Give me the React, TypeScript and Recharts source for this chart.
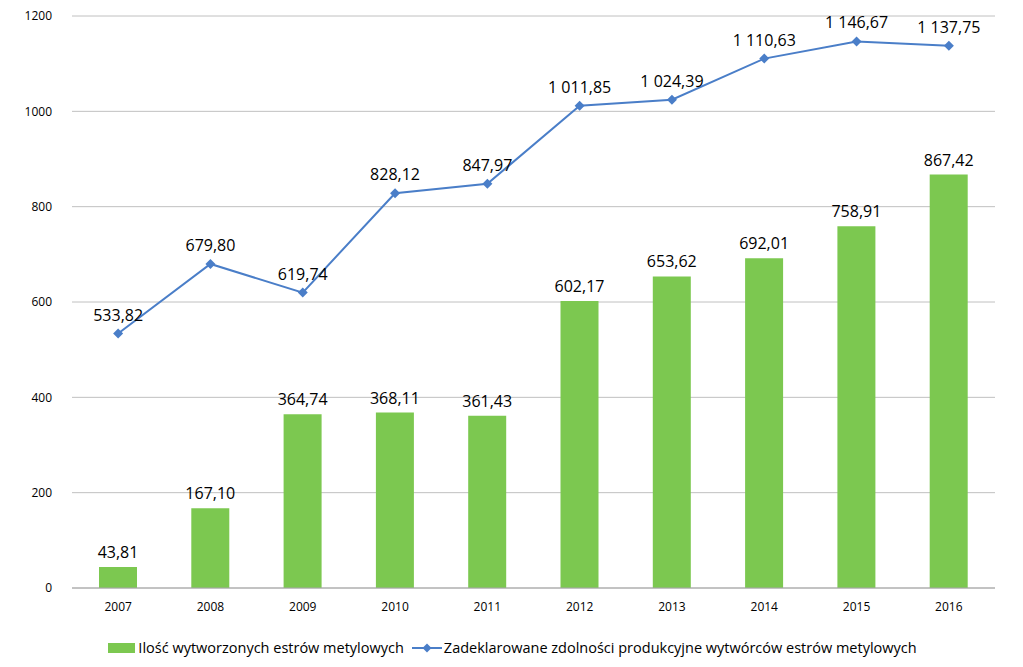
import {
  ComposedChart,
  Bar,
  Line,
  XAxis,
  YAxis,
  CartesianGrid,
  LabelList,
  Legend,
} from "recharts"

const years = ["2007", "2008", "2009", "2010", "2011", "2012", "2013", "2014", "2015", "2016"]
const produced = [43.81, 167.1, 364.74, 368.11, 361.43, 602.17, 653.62, 692.01, 758.91, 867.42]
const capacity = [533.82, 679.8, 619.74, 828.12, 847.97, 1011.85, 1024.39, 1110.63, 1146.67, 1137.75]
const yTicks = [0, 200, 400, 600, 800, 1000, 1200]

const barName = "Ilość wytworzonych estrów metylowych"
const lineName = "Zadeklarowane zdolności produkcyjne wytwórców estrów metylowych"

const data = years.map((y, i) => ({ year: y, produced: produced[i], capacity: capacity[i] }))

const GREEN = "#7CC850"
const BLUE = "#4A7EC8"
const FONT = "'Open Sans', sans-serif"

function fmt(v: number) {
  const [int, dec] = v.toFixed(2).split(".")
  return int.replace(/\B(?=(\d{3})+(?!\d))/g, " ") + "," + dec
}

function Diamond(props: any) {
  const { cx, cy } = props
  if (cx == null || cy == null) return null
  const s = 5
  return (
    <path
      d={`M${cx},${cy - s} L${cx + s},${cy} L${cx},${cy + s} L${cx - s},${cy} Z`}
      fill={BLUE}
    />
  )
}

function LegendBox() {
  return (
    <div
      style={{
        display: "flex",
        justifyContent: "center",
        alignItems: "center",
        fontFamily: FONT,
        fontSize: 14.5,
        color: "#000",
        paddingTop: 18,
        paddingLeft: 30,
      }}
    >
      <span style={{ display: "inline-block", width: 27, height: 10, background: GREEN, marginRight: 3 }} />
      <span style={{ marginRight: 8 }}>{barName}</span>
      <svg width={30} height={12} style={{ marginRight: 2 }}>
        <line x1={0} y1={6} x2={30} y2={6} stroke={BLUE} strokeWidth={2} />
        <path d="M15,1.5 L19.5,6 L15,10.5 L10.5,6 Z" fill={BLUE} />
      </svg>
      <span>{lineName}</span>
    </div>
  )
}

export default function App() {
  return (
    <div style={{ position: "absolute", left: 0, top: 0, background: "#fff" }}>
      <ComposedChart
        width={1023}
        height={667}
        data={data}
        margin={{ top: 16, right: 28, bottom: 0, left: 0 }}
      >
        <CartesianGrid vertical={false} stroke="#C0C0C0" strokeWidth={1} />
        <XAxis
          dataKey="year"
          height={32}
          stroke="#A6A6A6"
          tickLine={false}
          tick={{ fill: "#000", fontSize: 12, fontFamily: FONT }}
          tickMargin={8}
        />
        <YAxis
          domain={[0, 1200]}
          ticks={yTicks}
          width={72}
          axisLine={false}
          tickLine={false}
          tick={{ fill: "#000", fontSize: 12, fontFamily: FONT }}
          tickMargin={14}
        />
        <Legend content={<LegendBox />} verticalAlign="bottom" height={47} />
        <Bar dataKey="produced" name={barName} fill={GREEN} barSize={38} isAnimationActive={false}>
          <LabelList
            dataKey="produced"
            position="top"
            offset={9}
            formatter={(v: any) => fmt(Number(v))}
            style={{ fill: "#000", fontSize: 16, fontFamily: FONT }}
          />
        </Bar>
        <Line
          dataKey="capacity"
          name={lineName}
          stroke={BLUE}
          strokeWidth={2}
          dot={<Diamond />}
          activeDot={false}
          isAnimationActive={false}
        >
          <LabelList
            dataKey="capacity"
            position="top"
            offset={13}
            formatter={(v: any) => fmt(Number(v))}
            style={{ fill: "#000", fontSize: 16, fontFamily: FONT }}
          />
        </Line>
      </ComposedChart>
    </div>
  )
}
